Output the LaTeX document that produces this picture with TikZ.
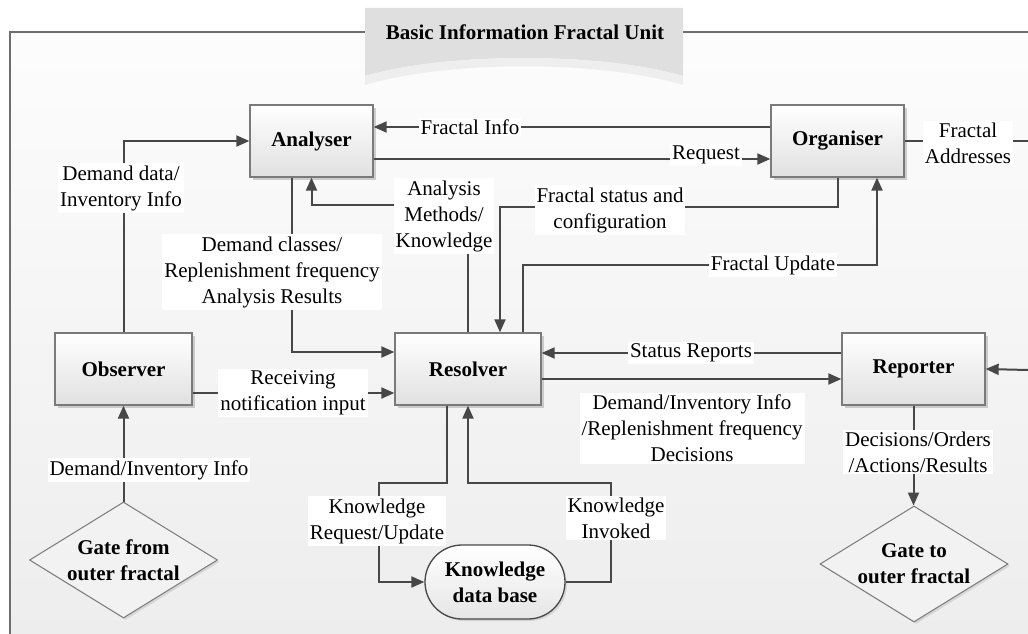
\documentclass[tikz,border=0pt]{standalone}
\usepackage{fontspec}
\setmainfont{Liberation Serif}
\usetikzlibrary{arrows.meta,shapes.geometric,shadows,calc}
\definecolor{linec}{HTML}{474747}
\definecolor{boxc}{HTML}{7A7A7A}
\definecolor{framec}{HTML}{6E6E6E}
\definecolor{tabdark}{HTML}{DFDFDF}
\definecolor{tablight}{HTML}{EEEEEE}
\tikzset{
  txt/.style={font=\fontsize{21}{26}\selectfont},
  box/.style={draw=boxc,line width=1.3pt,top color=white,bottom color=black!12,
    minimum height=72pt,inner sep=0pt,font=\fontsize{21}{26}\selectfont\bfseries,
    drop shadow={shadow xshift=3pt,shadow yshift=-3pt,fill=black!40,opacity=0.45}},
  gate/.style={shape=diamond,draw=boxc,line width=1pt,minimum width=188pt,
    minimum height=116pt,inner sep=0pt,fill=black!5,
    drop shadow={shadow xshift=2pt,shadow yshift=-2pt,fill=black!30,opacity=0.4}},
  gatetext/.style={align=center,font=\fontsize{21}{26}\selectfont\bfseries},
  dbbox/.style={draw=linec,line width=1.3pt,top color=white,bottom color=black!10,
    rounded corners=37pt,minimum width=140pt,minimum height=74pt,inner sep=0pt,
    align=center,font=\fontsize{21}{26}\selectfont\bfseries,
    drop shadow={shadow xshift=2pt,shadow yshift=-2pt,fill=black!30,opacity=0.4}},
  lab/.style={fill=white,inner sep=2pt,align=center,font=\fontsize{21}{26}\selectfont},
  arr/.style={draw=linec,line width=2pt,-{Triangle[length=13pt,width=11pt]}},
  ln/.style={draw=linec,line width=2pt},
}
\begin{document}
\begin{tikzpicture}[x=1pt,y=-1pt]
\useasboundingbox (0,0) rectangle (1028,634);
% background and frame
\shade[top color=black!1,bottom color=black!7] (10,32) rectangle (1028,634);
\draw[framec,line width=1.8pt] (10,634) -- (10,32) -- (1028,32);
% title tab
\fill[tabdark] (365,8) -- (683,8) -- (683,76) .. controls (600,52) and (448,52) .. (365,76) -- cycle;
\fill[tablight] (365,76) .. controls (448,52) and (600,52) .. (683,76) -- (683,85) .. controls (600,60) and (448,60) .. (365,85) -- cycle;
\node[txt,font=\fontsize{21}{26}\selectfont\bfseries] (title) at (525,32) {Basic Information Fractal Unit};

% nodes
\node[box,minimum width=123pt] (ana) at (311.5,141) {Analyser};
\node[box,minimum width=133pt] (org) at (837.5,141) {Organiser};
\node[box,minimum width=137pt] (obs) at (123.5,369) {Observer};
\node[box,minimum width=146pt] (res) at (468,369) {Resolver};
\node[box,minimum width=143pt] (rep) at (913.5,369) {Reporter};
\node[dbbox] (kdb) at (495,582) {Knowledge\\data base};
\node[gate] (gin) at (123.5,560) {};
\node[gatetext] (gintext) at (123.5,560) {Gate from\\outer fractal};
\node[gate] (gout) at (914,564) {};
\node[gatetext] (gouttext) at (914,564) {Gate to\\outer fractal};

% helper coordinates
\coordinate (k1) at (311.5,205);
\coordinate (k2) at (500,207);
\coordinate (k3) at (877,265);
\coordinate (k4) at (379,483);
\coordinate (k5) at (611,483);
\coordinate (orgout) at (1028,141);
\coordinate (repin) at (1028,370);

% connectors
\draw[arr] (obs.north) |- (ana.west);
\draw[arr] ([xshift=-19.5pt]ana.south) |- ([yshift=17pt]res.west);
\draw[arr] ([yshift=-24pt]obs.east) -- ([yshift=-24pt]res.west);
\draw[arr] (gin.north) -- (obs.south);
\draw[arr] (res.north) |- (k1) -- (ana.south);
\draw[arr] (org.south) |- (k2) -- (k2 |- res.north);
\draw[arr] ([xshift=55pt]res.north) |- (k3) -- (k3 |- org.south);
\draw[arr] ([yshift=14pt]org.west) -- ([yshift=14pt]ana.east);
\draw[arr] ([yshift=-18pt]ana.east) -- ([yshift=-18pt]org.west);
\draw[ln] (org.east) -- (orgout);
\draw[arr] ([yshift=16pt]rep.west) -- ([yshift=16pt]res.east);
\draw[arr] ([yshift=-10pt]res.east) -- ([yshift=-10pt]rep.west);
\draw[arr] (repin) -- (rep.east);
\draw[arr] (rep.south) -- (rep.south |- gout.north);
\draw[arr] ([xshift=-21pt]res.south) |- (k4) |- (kdb.west);
\draw[arr] (kdb.east) -| (k5) -| (res.south);

% labels
\node[lab] (l1) at (121,188) {Demand data/\\Inventory Info};
\node[lab] (l2) at (272,272) {Demand classes/\\Replenishment frequency\\Analysis Results};
\node[lab] (l3) at (293,393) {Receiving\\notification input};
\node[lab] (l4) at (149,470) {Demand/Inventory Info};
\node[lab] (l5) at (444,216) {Analysis\\Methods/\\Knowledge};
\node[lab] (l6) at (610,210) {Fractal status and\\configuration};
\node[lab] (l7) at (773,265) {Fractal Update};
\node[lab] (l8) at (470,127) {Fractal Info};
\node[lab] (l9) at (706,155) {Request};
\node[lab] (l10) at (968,143) {Fractal\\Addresses};
\node[lab] (l11) at (691,353) {Status Reports};
\node[lab] (l12) at (692,428) {Demand/Inventory Info\\/Replenishment frequency\\Decisions};
\node[lab] (l13) at (918,452) {Decisions/Orders\\/Actions/Results};
\node[lab] (l14) at (377,521) {Knowledge\\Request/Update};
\node[lab] (l15) at (616,518) {Knowledge\\Invoked};
\end{tikzpicture}
\end{document}
